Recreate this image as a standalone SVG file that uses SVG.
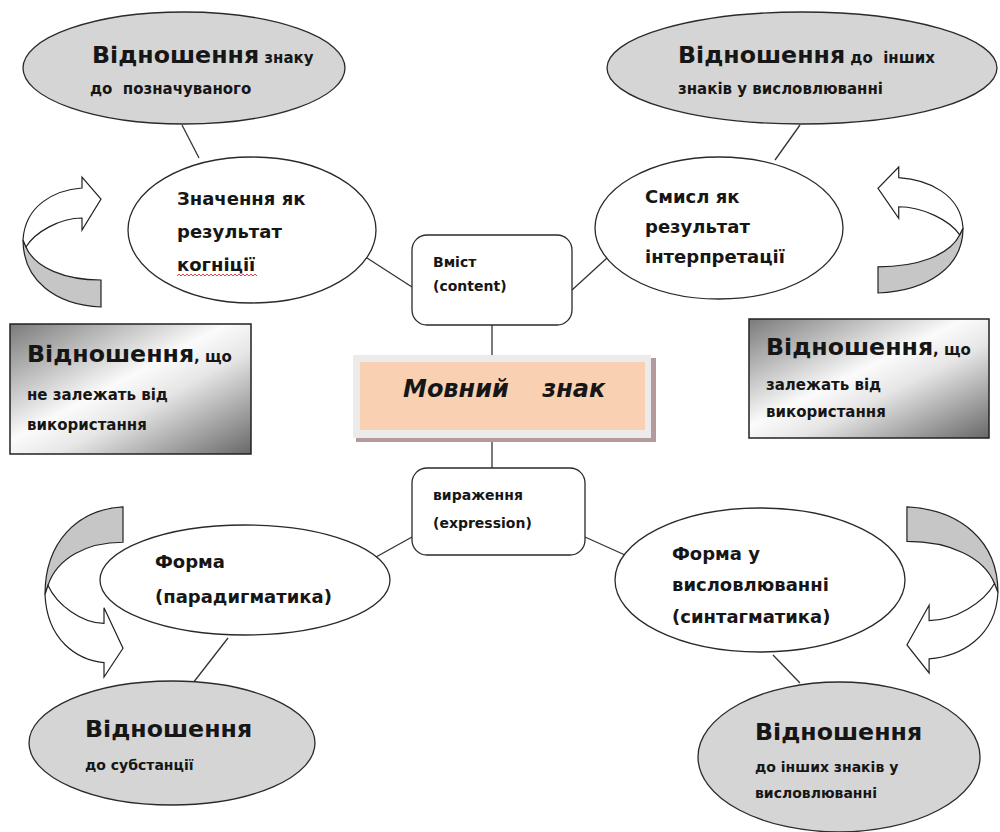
<svg xmlns="http://www.w3.org/2000/svg" xmlns:xlink="http://www.w3.org/1999/xlink" width="1000" height="832" viewBox="0 0 1000 832">
<style>
text{font-family:"DejaVu Sans","Open Sans",sans-serif;font-weight:bold;fill:#161616}
.big{font-size:23.7px}
.sm{font-size:15px}
.el{font-size:18px}
.bx{font-size:14px}
.gray{fill:#d5d5d5;stroke:#2a2a2a;stroke-width:1.3}
.wht{fill:#fff;stroke:#2a2a2a;stroke-width:1.3}
.ln{stroke:#333;stroke-width:1.3;fill:none}
.band{fill:#c6c6c6;stroke:#222;stroke-width:1.2;vector-effect:non-scaling-stroke}
.head{fill:#fff;stroke:#222;stroke-width:1.2;vector-effect:non-scaling-stroke}
</style>
<defs>
<linearGradient id="metal" x1="0" y1="0" x2="1" y2="1">
<stop offset="0" stop-color="#7a7a7a"/>
<stop offset="0.45" stop-color="#fbfbfb"/>
<stop offset="0.6" stop-color="#e6e6e6"/>
<stop offset="1" stop-color="#686868"/>
</linearGradient>
<g id="carrow">
<path class="band" d="M23,240 C23,280 55,305 101,307 L101,280 C65,280 35,268 26,247 Z"/>
<path class="head" d="M23,240 C25,205 55,190 82,188 L82,177 L101,199 L82,230 L82,218 C60,218 35,232 26,247 Z"/>
</g>
</defs>
<rect width="1000" height="832" fill="#fff"/>

<g id="connectors">
<line class="ln" x1="182" y1="125" x2="199" y2="158"/>
<line class="ln" x1="800" y1="125" x2="775" y2="160"/>
<line class="ln" x1="367" y1="258" x2="412" y2="287"/>
<line class="ln" x1="572" y1="290" x2="607" y2="258"/>
<line class="ln" x1="492" y1="325" x2="492" y2="356"/>
<line class="ln" x1="492" y1="437" x2="492" y2="468"/>
<line class="ln" x1="412" y1="537" x2="376" y2="557"/>
<line class="ln" x1="585" y1="537" x2="625" y2="555"/>
<line class="ln" x1="228" y1="638" x2="193" y2="683"/>
<line class="ln" x1="773" y1="655" x2="800" y2="683"/>
</g>

<g id="arrows">
<use xlink:href="#carrow"/>
<use xlink:href="#carrow" transform="matrix(-1.09 0 0 0.969 988.1 -4.5)"/>
<use xlink:href="#carrow" transform="matrix(1 0 0 -1.308 22 908.5)"/>
<use xlink:href="#carrow" transform="matrix(-1.167 0 0 -1.277 1024.8 899)"/>
</g>

<g id="rel-signified">
<ellipse class="gray" cx="184" cy="68" rx="161" ry="56"/>
<text x="92" y="63"><tspan class="big">Відношення</tspan><tspan class="sm"> знаку</tspan></text>
<text x="90" y="94" class="sm" xml:space="preserve">до  позначуваного</text>
</g>

<g id="rel-other-signs">
<ellipse class="gray" cx="802" cy="68" rx="195" ry="56"/>
<text x="678" y="63" xml:space="preserve"><tspan class="big">Відношення</tspan><tspan class="sm"> до  інших</tspan></text>
<text x="678" y="94" class="sm">знаків у висловлюванні</text>
</g>

<g id="meaning">
<ellipse class="wht" cx="252" cy="230" rx="124" ry="73"/>
<text x="177" y="205" class="el">Значення як</text>
<text x="177" y="238" class="el">результат</text>
<text x="177" y="271" class="el">когніції</text>
<path d="M177,276 l2,-2 l2,2 l2,-2 l2,2 l2,-2 l2,2 l2,-2 l2,2 l2,-2 l2,2 l2,-2 l2,2 l2,-2 l2,2 l2,-2 l2,2 l2,-2 l2,2 l2,-2 l2,2 l2,-2 l2,2 l2,-2 l2,2 l2,-2 l2,2 l2,-2 l2,2 l2,-2 l2,2 l2,-2 l2,2 l2,-2 l2,2 l2,-2 l2,2 l2,-2 l2,2 l2,-2 l2,2" fill="none" stroke="#e03030" stroke-width="0.9"/>
</g>

<g id="sense">
<ellipse class="wht" cx="719" cy="228" rx="124" ry="71"/>
<text x="645" y="203" class="el">Смисл як</text>
<text x="645" y="233" class="el">результат</text>
<text x="645" y="263" class="el">інтерпретації</text>
</g>

<g id="content">
<rect class="wht" x="412" y="235" width="160" height="90" rx="15"/>
<text x="433" y="267" class="bx">Вміст</text>
<text x="433" y="291" class="bx">(content)</text>
</g>

<g id="sign">
<rect x="356" y="358" width="300" height="84" fill="#b49a9c"/>
<rect x="353" y="355" width="298" height="83" fill="#ebebeb"/>
<rect x="360" y="362" width="285" height="68" fill="#f9d0b2"/>
<text x="403" y="397" style="font-size:24px;font-style:italic" xml:space="preserve">Мовний    знак</text>
</g>

<g id="expression">
<rect class="wht" x="412" y="468" width="173" height="87" rx="15"/>
<text x="433" y="500" class="bx">вираження</text>
<text x="433" y="528" class="bx">(expression)</text>
</g>

<g id="form-paradigm">
<ellipse class="wht" cx="245" cy="580" rx="145" ry="55"/>
<text x="155" y="568" class="el">Форма</text>
<text x="155" y="603" class="el">(парадигматика)</text>
</g>

<g id="form-syntagm">
<ellipse class="wht" cx="760" cy="580" rx="145" ry="72"/>
<text x="672" y="560" class="el">Форма у</text>
<text x="672" y="591" class="el">висловлюванні</text>
<text x="672" y="623" class="el">(синтагматика)</text>
</g>

<g id="rel-independent">
<rect x="10" y="324" width="241" height="130" fill="url(#metal)" stroke="#222" stroke-width="1.5"/>
<text x="27" y="362"><tspan class="big">Відношення</tspan><tspan class="sm">, що</tspan></text>
<text x="27" y="400" class="sm">не залежать від</text>
<text x="27" y="430" class="sm">використання</text>
</g>

<g id="rel-dependent">
<rect x="749" y="319" width="240" height="119" fill="url(#metal)" stroke="#222" stroke-width="1.5"/>
<text x="766" y="355"><tspan class="big">Відношення</tspan><tspan class="sm">, що</tspan></text>
<text x="766" y="390" class="sm">залежать від</text>
<text x="766" y="417" class="sm">використання</text>
</g>

<g id="rel-substance">
<ellipse class="gray" cx="172" cy="743" rx="143" ry="62"/>
<text x="85" y="737" class="big">Відношення</text>
<text x="85" y="770" class="bx">до субстанції</text>
</g>

<g id="rel-other-signs-utterance">
<ellipse class="gray" cx="839" cy="757" rx="141" ry="75"/>
<text x="755" y="740" class="big">Відношення</text>
<text x="755" y="772" class="bx">до інших знаків у</text>
<text x="755" y="798" class="bx">висловлюванні</text>
</g>
</svg>
